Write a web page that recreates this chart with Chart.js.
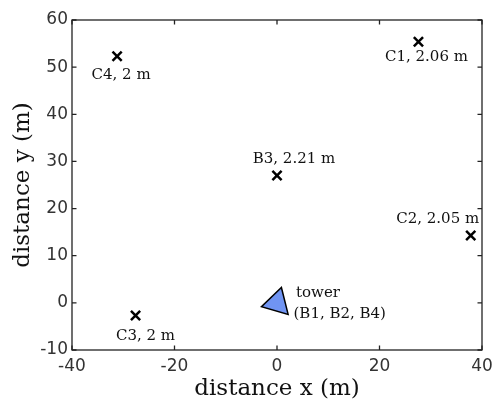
<!DOCTYPE html>
<html><head><meta charset="utf-8">
<script src="https://cdn.jsdelivr.net/npm/chart.js@4"></script>
<style>html,body{margin:0;padding:0;background:#fff}</style>
</head><body>
<canvas id="c" width="495" height="403"></canvas>
<script>
const sensorNames = ['C4', 'C1', 'B3', 'C2', 'C3'];
const sensorHeights = ['2 m', '2.06 m', '2.21 m', '2.05 m', '2 m'];
const sensorX = [-31.2, 27.6, 0, 37.8, -27.6];
const sensorY = [52.3, 55.4, 27.0, 14.3, -2.7];
const towerX = [0];
const towerY = [0];
const towerLabels = ['tower', '(B1, B2, B4)'];
const xRange = [-40, 40];
const yRange = [-10, 60];
const xStep = 20;
const yStep = 10;

// label offsets (pixels) relative to each marker – styling only
const labelOffsets = [[4, 23], [8, 19], [17, -13], [-33, -12], [10, 24]];
const towerLabelOffsets = [[19, -6], [16.5, 15]];

const serif = '"DejaVu Serif", serif';
const sans = '"DejaVu Sans", sans-serif';

const annotate = {
  id: 'annotate',
  beforeDatasetsDraw(chart) {
    const {ctx, chartArea: a, scales: {x, y}} = chart;
    ctx.save();
    ctx.strokeStyle = '#222';
    ctx.lineWidth = 1.3;
    ctx.strokeRect(a.left, a.top, a.right - a.left, a.bottom - a.top);
    const tl = 4.5;
    ctx.beginPath();
    x.ticks.forEach(t => {
      const px = x.getPixelForValue(t.value);
      ctx.moveTo(px, a.bottom); ctx.lineTo(px, a.bottom - tl);
      ctx.moveTo(px, a.top); ctx.lineTo(px, a.top + tl);
    });
    y.ticks.forEach(t => {
      const py = y.getPixelForValue(t.value);
      ctx.moveTo(a.left, py); ctx.lineTo(a.left + tl, py);
      ctx.moveTo(a.right, py); ctx.lineTo(a.right - tl, py);
    });
    ctx.stroke();
    ctx.restore();
  },
  afterDatasetsDraw(chart) {
    const {ctx, scales: {x, y}} = chart;
    ctx.save();
    ctx.fillStyle = '#111';
    ctx.font = '15px ' + serif;
    ctx.textBaseline = 'alphabetic';
    ctx.textAlign = 'center';
    sensorNames.forEach((n, i) => {
      const px = x.getPixelForValue(sensorX[i]);
      const py = y.getPixelForValue(sensorY[i]);
      ctx.fillText(n + ', ' + sensorHeights[i], px + labelOffsets[i][0], py + labelOffsets[i][1]);
    });
    ctx.textAlign = 'left';
    const tx = x.getPixelForValue(towerX[0]);
    const ty = y.getPixelForValue(towerY[0]);
    towerLabels.forEach((t, i) => {
      ctx.fillText(t, tx + towerLabelOffsets[i][0], ty + towerLabelOffsets[i][1]);
    });
    ctx.restore();
  }
};

new Chart(document.getElementById('c'), {
  type: 'scatter',
  data: {
    datasets: [
      {
        label: 'sensors',
        data: sensorX.map((v, i) => ({x: v, y: sensorY[i]})),
        pointStyle: 'crossRot',
        pointRadius: 6.5,
        pointHoverRadius: 6.5,
        borderWidth: 2.5,
        borderColor: '#000',
        backgroundColor: '#000'
      },
      {
        label: 'tower',
        data: towerX.map((v, i) => ({x: v, y: towerY[i]})),
        pointStyle: 'triangle',
        pointRadius: 16,
        pointHoverRadius: 16,
        rotation: 16,
        borderWidth: 1.5,
        borderColor: '#000',
        backgroundColor: '#7094f2'
      }
    ]
  },
  options: {
    responsive: false,
    devicePixelRatio: 1,
    animation: false,
    layout: {autoPadding: false, padding: {left: 0, right: 13, top: 20, bottom: 0}},
    plugins: {legend: {display: false}, tooltip: {enabled: false}},
    scales: {
      x: {
        type: 'linear',
        min: xRange[0], max: xRange[1],
        ticks: {stepSize: xStep, font: {family: sans, size: 17}, color: '#333', padding: 6, maxRotation: 0},
        grid: {display: false, drawTicks: false},
        border: {display: false},
        afterFit(s) { s.height = 53; s.paddingLeft = 0; s.paddingRight = 0; },
        title: {display: true, text: 'distance x (m)', font: {family: serif, size: 23}, color: '#111', padding: {top: 0, bottom: 0}}
      },
      y: {
        type: 'linear',
        min: yRange[0], max: yRange[1],
        ticks: {stepSize: yStep, font: {family: sans, size: 17}, color: '#333', padding: 4},
        grid: {display: false, drawTicks: false},
        border: {display: false},
        afterFit(s) { s.width = 72; s.paddingTop = 0; s.paddingBottom = 0; },
        title: {display: true, text: 'distance y (m)', font: {family: serif, size: 23}, color: '#111', padding: {top: 9, bottom: 0}}
      }
    }
  },
  plugins: [annotate]
});
</script>
</body></html>
